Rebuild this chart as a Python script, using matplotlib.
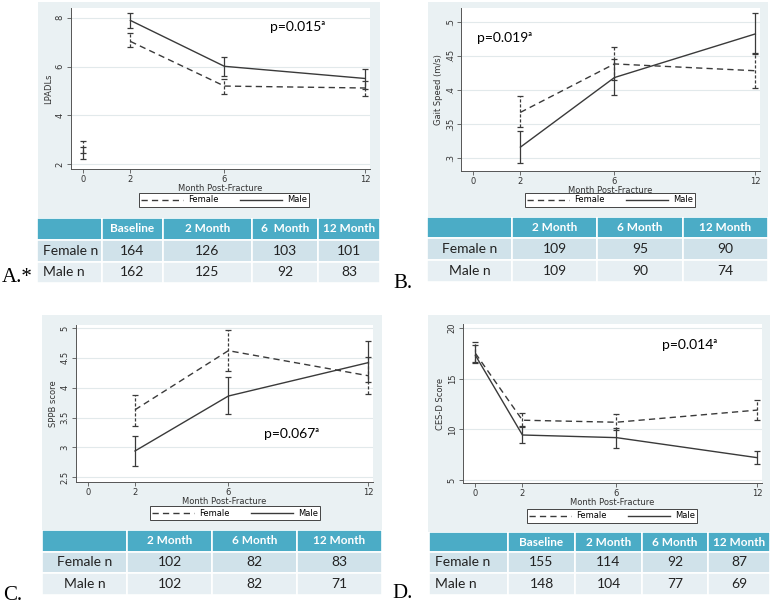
import numpy as np
import matplotlib.pyplot as plt
from matplotlib.patches import Rectangle
from matplotlib.lines import Line2D

W, H = 776, 608
BG = '#eaf1f3'
LC = '#3a3a3a'
HEAD = '#4bacc6'
ROW1 = '#d0e2ea'
ROW2 = '#e7eff3'

months = [0, 2, 6, 12]

# A: LPADLs
lpadl_fem = [2.62, 7.03, 5.20, 5.12]
lpadl_fem_lo = [2.45, 6.80, 4.86, 4.78]
lpadl_fem_hi = [2.95, 7.38, 5.50, 5.39]
lpadl_male = [2.55, 7.89, 6.01, 5.51]
lpadl_male_lo = [2.23, 7.59, 5.63, 5.09]
lpadl_male_hi = [2.70, 8.19, 6.38, 5.90]

# B: gait speed
gait_fem = [0.367, 0.438, 0.428]
gait_fem_lo = [0.345, 0.415, 0.403]
gait_fem_hi = [0.391, 0.463, 0.454]
gait_male = [0.316, 0.418, 0.482]
gait_male_lo = [0.292, 0.392, 0.453]
gait_male_hi = [0.339, 0.445, 0.512]

# C: SPPB
sppb_fem = [3.63, 4.62, 4.20]
sppb_fem_lo = [3.36, 4.28, 3.89]
sppb_fem_hi = [3.88, 4.96, 4.52]
sppb_male = [2.94, 3.86, 4.42]
sppb_male_lo = [2.68, 3.56, 4.10]
sppb_male_hi = [3.19, 4.18, 4.78]

# D: CES-D
cesd_fem = [17.5, 10.9, 10.7, 11.9]
cesd_fem_lo = [16.6, 10.3, 9.9, 10.9]
cesd_fem_hi = [18.6, 11.6, 11.5, 12.9]
cesd_male = [17.3, 9.44, 9.18, 7.2]
cesd_male_lo = [16.5, 8.62, 8.19, 6.56]
cesd_male_hi = [18.3, 10.26, 10.1, 7.87]

# tables
cols_a = ['', 'Baseline', '2 Month', '6  Month', '12 Month']
fem_n_a = [164, 126, 103, 101]
male_n_a = [162, 125, 92, 83]
cols_b = ['', '2 Month', '6 Month', '12 Month']
fem_n_b = [109, 95, 90]
male_n_b = [109, 90, 74]
cols_c = ['', '2 Month', '6 Month', '12 Month']
fem_n_c = [102, 82, 83]
male_n_c = [102, 82, 71]
cols_d = ['', 'Baseline', '2 Month', '6 Month', '12 Month']
fem_n_d = [155, 114, 92, 87]
male_n_d = [148, 104, 77, 69]


def fbox(x0, y0, x1, y1):
    return [x0 / W, 1 - y1 / H, (x1 - x0) / W, (y1 - y0) / H]


def add_bg(fig, x0, y0, x1, y1):
    fig.add_artist(Rectangle((x0 / W, 1 - y1 / H), (x1 - x0) / W, (y1 - y0) / H,
                             transform=fig.transFigure, facecolor=BG,
                             edgecolor='none', zorder=0))


def rcap(ax, x, mid, lo, hi, dashed):
    mid = np.array(mid)
    err = [mid - np.array(lo), np.array(hi) - mid]
    eb = ax.errorbar(x, mid, yerr=err, fmt='none', ecolor=LC, elinewidth=0.9,
                     capsize=2, capthick=0.9, zorder=3)
    if dashed:
        eb[2][0].set_linestyle((0, (2.5, 1.5)))


def draw_plot(fig, rect, x, fem, male, ylim, yticks, ylabels, ylabel,
              ptext, ppos, skip_base, leg_center):
    ax = fig.add_axes(fbox(*rect))
    ax.set_facecolor('white')
    ax.set_xlim(-0.53, 12.2)
    ax.set_ylim(*ylim)
    s = 1 if skip_base else 0
    ax.plot(x[s:], fem[0][s:], color=LC, lw=1, dashes=(4.5, 3), zorder=3)
    ax.plot(x[s:], male[0][s:], color=LC, lw=1, zorder=3)
    rcap(ax, x, *fem, dashed=True)
    rcap(ax, x, *male, dashed=False)
    ax.set_xticks([0, 2, 6, 12])
    ax.set_yticks(yticks)
    ax.set_yticklabels(ylabels, rotation=90, va='center')
    ax.tick_params(labelsize=6, length=3, width=0.6, color='#555', pad=1.5,
                   labelcolor='#333')
    for sp in ['top', 'right']:
        ax.spines[sp].set_visible(False)
    for sp in ['left', 'bottom']:
        ax.spines[sp].set_color('#555')
        ax.spines[sp].set_linewidth(0.7)
    ax.yaxis.grid(True, color='#e2e9eb', lw=0.8)
    ax.set_axisbelow(True)
    ax.set_xlabel('Month Post-Fracture', fontsize=6, color='#333', labelpad=-0.5)
    ax.set_ylabel(ylabel, fontsize=6, color='#333', labelpad=2)
    fig.text(ppos[0] / W, 1 - ppos[1] / H, ptext, fontsize=10,
             family=['Lato', 'DejaVu Sans'], va='center', ha='left')
    handles = [Line2D([], [], color=LC, lw=1, dashes=(4.5, 3)),
               Line2D([], [], color=LC, lw=1)]
    leg = fig.legend(handles, ['Female', 'Male'], loc='center',
                     bbox_to_anchor=(leg_center[0] / W, 1 - leg_center[1] / H),
                     ncol=2, fontsize=6, handlelength=5, columnspacing=2.6,
                     handletextpad=0.6, borderpad=0.3, fancybox=False,
                     edgecolor='#444', framealpha=1)
    leg.get_frame().set_linewidth(0.7)
    return ax


def draw_table(fig, x0, y0, widths, heights, cols, fem_n, male_n, first_left):
    tw = sum(widths)
    th = sum(heights)
    ax = fig.add_axes(fbox(x0, y0, x0 + tw, y0 + th))
    ax.set_xlim(0, tw)
    ax.set_ylim(th, 0)
    ax.axis('off')
    rows = [cols, ['Female n'] + [str(v) for v in fem_n],
            ['Male n'] + [str(v) for v in male_n]]
    colors = [HEAD, ROW1, ROW2]
    y = 0
    for r, (vals, h) in enumerate(zip(rows, heights)):
        xx = 0
        for c, (val, w) in enumerate(zip(vals, widths)):
            ax.add_patch(Rectangle((xx, y), w, h, facecolor=colors[r],
                                   edgecolor='white', lw=1.2))
            if r == 0:
                ax.text(xx + w / 2, y + h / 2, val, ha='center', va='center',
                        fontsize=8.5, color='white', weight='bold',
                        family='Lato')
            elif c == 0 and first_left:
                ax.text(xx + 6, y + h / 2, val, ha='left', va='center',
                        fontsize=10, color='#222', family='Lato')
            else:
                ax.text(xx + w / 2, y + h / 2, val, ha='center', va='center',
                        fontsize=10, color='#222', family='Lato')
            xx += w
        y += h


def main():
    fig = plt.figure(figsize=(W / 100, H / 100), dpi=100)
    fig.patch.set_facecolor('white')

    add_bg(fig, 38, 2, 380, 218)
    add_bg(fig, 428, 2, 768, 217)
    add_bg(fig, 42, 315, 382, 530)
    add_bg(fig, 428, 315, 770, 532)

    draw_plot(fig, (71, 8, 370, 169), months,
              (lpadl_fem, lpadl_fem_lo, lpadl_fem_hi),
              (lpadl_male, lpadl_male_lo, lpadl_male_hi),
              (1.8, 8.4), [2, 4, 6, 8], ['2', '4', '6', '8'], 'LPADLs',
              'p=0.015ᵃ', (270, 27), True, (224, 200))

    draw_plot(fig, (461, 8, 760, 171), months[1:],
              (gait_fem, gait_fem_lo, gait_fem_hi),
              (gait_male, gait_male_lo, gait_male_hi),
              (0.281, 0.52), [0.3, 0.35, 0.4, 0.45, 0.5],
              ['.3', '.35', '.4', '.45', '.5'], 'Gait Speed (m/s)',
              'p=0.019ᵃ', (477, 38), False, (610, 200))

    draw_plot(fig, (76, 325, 373, 482), months[1:],
              (sppb_fem, sppb_fem_lo, sppb_fem_hi),
              (sppb_male, sppb_male_lo, sppb_male_hi),
              (2.42, 5.05), [2.5, 3, 3.5, 4, 4.5, 5],
              ['2.5', '3', '3.5', '4', '4.5', '5'], 'SPPB score',
              'p=0.067ᵃ', (264, 434), False, (235, 513))

    draw_plot(fig, (463, 324, 762, 483), months,
              (cesd_fem, cesd_fem_lo, cesd_fem_hi),
              (cesd_male, cesd_male_lo, cesd_male_hi),
              (4.7, 20.4), [5, 10, 15, 20], ['5', '10', '15', '20'],
              'CES-D Score', 'p=0.014ᵃ', (662, 345), False, (612, 516))

    draw_table(fig, 37, 218, [65, 61, 89, 66, 62], [22, 22, 21],
               cols_a, fem_n_a, male_n_a, True)
    draw_table(fig, 427, 217, [85, 85, 86, 85], [21, 22, 22],
               cols_b, fem_n_b, male_n_b, False)
    draw_table(fig, 42, 530, [85, 85, 85, 85], [22, 21, 22],
               cols_c, fem_n_c, male_n_c, False)
    draw_table(fig, 429, 532, [79, 67, 67, 66, 62], [20, 21, 22],
               cols_d, fem_n_d, male_n_d, True)

    serif = ['Liberation Serif', 'DejaVu Serif']
    fig.text(2 / W, 1 - 277 / H, 'A.*', fontsize=15, family=serif, va='center')
    fig.text(393 / W, 1 - 283 / H, 'B.', fontsize=15, family=serif, va='center')
    fig.text(3 / W, 1 - 595 / H, 'C.', fontsize=15, family=serif, va='center')
    fig.text(392 / W, 1 - 594 / H, 'D.', fontsize=15, family=serif, va='center')

    fig.savefig('out.png', dpi=100)


if __name__ == "__main__":
    main()
